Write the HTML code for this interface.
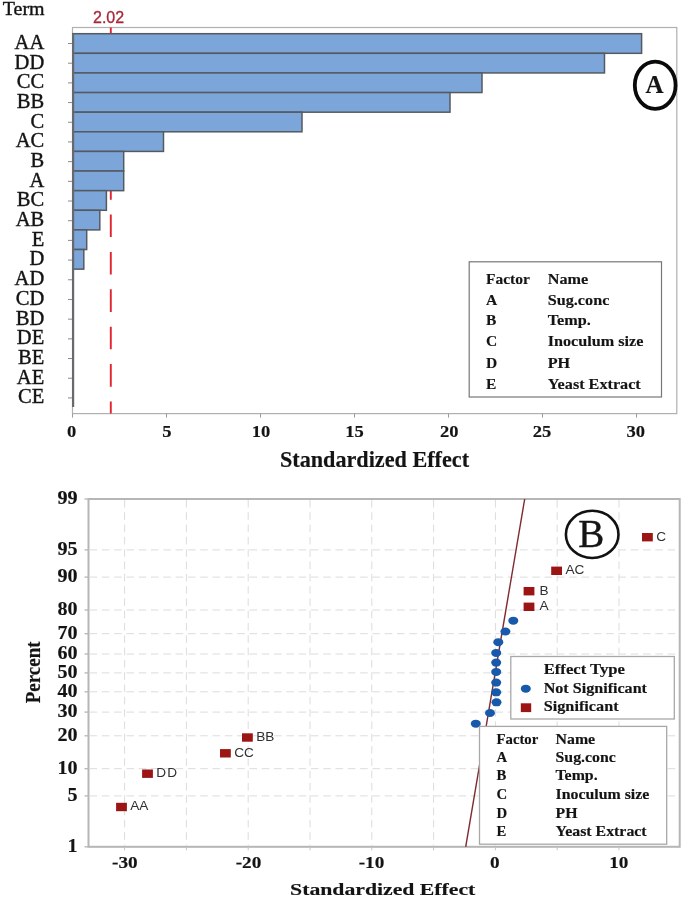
<!DOCTYPE html><html><head><meta charset="utf-8"><title>Pareto and Normal Plot</title>
<style>html,body{margin:0;padding:0;background:#fff;}svg{display:block;filter:blur(0.3px);}text{font-family:"Liberation Serif",serif;fill:#141414;}.b{font-weight:bold;stroke:#141414;stroke-width:0.15px;}.r{stroke:#141414;stroke-width:0.4px;}.s{font-family:"Liberation Sans",sans-serif;}</style></head><body>
<svg width="685" height="900" viewBox="0 0 685 900">
<rect x="0" y="0" width="685" height="900" fill="#ffffff"/>
<g id="chartA">
<rect x="72.5" y="27.5" width="604.3" height="386.1" fill="#fff" stroke="#b0b0b0" stroke-width="1.2"/>
<line x1="110.8" y1="27.5" x2="110.8" y2="413.6" stroke="#e2242e" stroke-width="1.9" stroke-dasharray="22.6 14.8"/>
<rect x="72.8" y="33.70" width="568.8" height="19.62" fill="#7ca5d9" stroke="#555a60" stroke-width="1.5"/>
<line x1="68" y1="43.50" x2="72.5" y2="43.50" stroke="#8a8a8a" stroke-width="1"/>
<text class="r" transform="translate(44.20,48.90)" font-size="20.5" text-anchor="end">AA</text>
<rect x="72.8" y="53.32" width="531.7" height="19.62" fill="#7ca5d9" stroke="#555a60" stroke-width="1.5"/>
<line x1="68" y1="63.19" x2="72.5" y2="63.19" stroke="#8a8a8a" stroke-width="1"/>
<text class="r" transform="translate(44.20,68.59)" font-size="20.5" text-anchor="end">DD</text>
<rect x="72.8" y="72.94" width="409.2" height="19.62" fill="#7ca5d9" stroke="#555a60" stroke-width="1.5"/>
<line x1="68" y1="82.88" x2="72.5" y2="82.88" stroke="#8a8a8a" stroke-width="1"/>
<text class="r" transform="translate(44.20,88.28)" font-size="20.5" text-anchor="end">CC</text>
<rect x="72.8" y="92.56" width="377.2" height="19.62" fill="#7ca5d9" stroke="#555a60" stroke-width="1.5"/>
<line x1="68" y1="102.57" x2="72.5" y2="102.57" stroke="#8a8a8a" stroke-width="1"/>
<text class="r" transform="translate(44.20,107.97)" font-size="20.5" text-anchor="end">BB</text>
<rect x="72.8" y="112.18" width="229.2" height="19.62" fill="#7ca5d9" stroke="#555a60" stroke-width="1.5"/>
<line x1="68" y1="122.26" x2="72.5" y2="122.26" stroke="#8a8a8a" stroke-width="1"/>
<text class="r" transform="translate(44.20,127.66)" font-size="20.5" text-anchor="end">C</text>
<rect x="72.8" y="131.80" width="90.7" height="19.62" fill="#7ca5d9" stroke="#555a60" stroke-width="1.5"/>
<line x1="68" y1="141.95" x2="72.5" y2="141.95" stroke="#8a8a8a" stroke-width="1"/>
<text class="r" transform="translate(44.20,147.35)" font-size="20.5" text-anchor="end">AC</text>
<rect x="72.8" y="151.42" width="50.9" height="19.62" fill="#7ca5d9" stroke="#555a60" stroke-width="1.5"/>
<line x1="68" y1="161.64" x2="72.5" y2="161.64" stroke="#8a8a8a" stroke-width="1"/>
<text class="r" transform="translate(44.20,167.04)" font-size="20.5" text-anchor="end">B</text>
<rect x="72.8" y="171.04" width="50.9" height="19.62" fill="#7ca5d9" stroke="#555a60" stroke-width="1.5"/>
<line x1="68" y1="181.33" x2="72.5" y2="181.33" stroke="#8a8a8a" stroke-width="1"/>
<text class="r" transform="translate(44.20,186.73)" font-size="20.5" text-anchor="end">A</text>
<rect x="72.8" y="190.66" width="33.6" height="19.62" fill="#7ca5d9" stroke="#555a60" stroke-width="1.5"/>
<line x1="68" y1="201.02" x2="72.5" y2="201.02" stroke="#8a8a8a" stroke-width="1"/>
<text class="r" transform="translate(44.20,206.42)" font-size="20.5" text-anchor="end">BC</text>
<rect x="72.8" y="210.28" width="27.0" height="19.62" fill="#7ca5d9" stroke="#555a60" stroke-width="1.5"/>
<line x1="68" y1="220.71" x2="72.5" y2="220.71" stroke="#8a8a8a" stroke-width="1"/>
<text class="r" transform="translate(44.20,226.11)" font-size="20.5" text-anchor="end">AB</text>
<rect x="72.8" y="229.90" width="13.9" height="19.62" fill="#7ca5d9" stroke="#555a60" stroke-width="1.5"/>
<line x1="68" y1="240.40" x2="72.5" y2="240.40" stroke="#8a8a8a" stroke-width="1"/>
<text class="r" transform="translate(44.20,245.80)" font-size="20.5" text-anchor="end">E</text>
<rect x="72.8" y="249.52" width="11.0" height="19.62" fill="#7ca5d9" stroke="#555a60" stroke-width="1.5"/>
<line x1="68" y1="260.09" x2="72.5" y2="260.09" stroke="#8a8a8a" stroke-width="1"/>
<text class="r" transform="translate(44.20,265.49)" font-size="20.5" text-anchor="end">D</text>
<line x1="68" y1="279.78" x2="72.5" y2="279.78" stroke="#8a8a8a" stroke-width="1"/>
<text class="r" transform="translate(44.20,285.18)" font-size="20.5" text-anchor="end">AD</text>
<line x1="68" y1="299.47" x2="72.5" y2="299.47" stroke="#8a8a8a" stroke-width="1"/>
<text class="r" transform="translate(44.20,304.87)" font-size="20.5" text-anchor="end">CD</text>
<line x1="68" y1="319.16" x2="72.5" y2="319.16" stroke="#8a8a8a" stroke-width="1"/>
<text class="r" transform="translate(44.20,324.56)" font-size="20.5" text-anchor="end">BD</text>
<line x1="68" y1="338.85" x2="72.5" y2="338.85" stroke="#8a8a8a" stroke-width="1"/>
<text class="r" transform="translate(44.20,344.25)" font-size="20.5" text-anchor="end">DE</text>
<line x1="68" y1="358.54" x2="72.5" y2="358.54" stroke="#8a8a8a" stroke-width="1"/>
<text class="r" transform="translate(44.20,363.94)" font-size="20.5" text-anchor="end">BE</text>
<line x1="68" y1="378.23" x2="72.5" y2="378.23" stroke="#8a8a8a" stroke-width="1"/>
<text class="r" transform="translate(44.20,383.63)" font-size="20.5" text-anchor="end">AE</text>
<line x1="68" y1="397.92" x2="72.5" y2="397.92" stroke="#8a8a8a" stroke-width="1"/>
<text class="r" transform="translate(44.20,403.32)" font-size="20.5" text-anchor="end">CE</text>
<line x1="73.1" y1="33.7" x2="73.1" y2="407.0" stroke="#666a6e" stroke-width="2.2"/>
<line x1="72.5" y1="413.6" x2="72.5" y2="417.6" stroke="#9a9a9a" stroke-width="1"/>
<text class="b" transform="translate(71.60,437.00) scale(1.06,1.0)" font-size="17.5" text-anchor="middle">0</text>
<line x1="166.5" y1="413.6" x2="166.5" y2="417.6" stroke="#9a9a9a" stroke-width="1"/>
<text class="b" transform="translate(167.00,437.00) scale(1.06,1.0)" font-size="17.5" text-anchor="middle">5</text>
<line x1="260.5" y1="413.6" x2="260.5" y2="417.6" stroke="#9a9a9a" stroke-width="1"/>
<text class="b" transform="translate(261.00,437.00) scale(1.06,1.0)" font-size="17.5" text-anchor="middle">10</text>
<line x1="354.5" y1="413.6" x2="354.5" y2="417.6" stroke="#9a9a9a" stroke-width="1"/>
<text class="b" transform="translate(354.60,437.00) scale(1.06,1.0)" font-size="17.5" text-anchor="middle">15</text>
<line x1="448.5" y1="413.6" x2="448.5" y2="417.6" stroke="#9a9a9a" stroke-width="1"/>
<text class="b" transform="translate(449.20,437.00) scale(1.06,1.0)" font-size="17.5" text-anchor="middle">20</text>
<line x1="542.5" y1="413.6" x2="542.5" y2="417.6" stroke="#9a9a9a" stroke-width="1"/>
<text class="b" transform="translate(542.00,437.00) scale(1.06,1.0)" font-size="17.5" text-anchor="middle">25</text>
<line x1="636.5" y1="413.6" x2="636.5" y2="417.6" stroke="#9a9a9a" stroke-width="1"/>
<text class="b" transform="translate(635.80,437.00) scale(1.06,1.0)" font-size="17.5" text-anchor="middle">30</text>
<text class="r" transform="translate(2.80,15.00) scale(1.05,1.0)" font-size="19" text-anchor="start">Term</text>
<text class="s" transform="translate(93.00,22.50)" font-size="16" text-anchor="start" style="fill:#a8283a;stroke:#a8283a;stroke-width:0.3px">2.02</text>
<text class="b" transform="translate(374.50,466.80)" font-size="22.2" text-anchor="middle">Standardized Effect</text>
<ellipse cx="655.2" cy="85.2" rx="20.4" ry="23.6" fill="none" stroke="#0a0a0a" stroke-width="3.8"/>
<text class="b" transform="translate(654.60,92.80)" font-size="25" text-anchor="middle">A</text>
<rect x="469.2" y="261.8" width="192.3" height="135.2" fill="#fff" stroke="#777" stroke-width="1.2"/>
<text class="b" transform="translate(486.00,283.60)" font-size="15.5" text-anchor="start">Factor</text>
<text class="b" transform="translate(547.70,283.60) scale(1.045,1.0)" font-size="15.5" text-anchor="start">Name</text>
<text class="b" transform="translate(486.00,304.70)" font-size="15.5" text-anchor="start">A</text>
<text class="b" transform="translate(547.70,304.70) scale(1.045,1.0)" font-size="15.5" text-anchor="start">Sug.conc</text>
<text class="b" transform="translate(486.00,324.60)" font-size="15.5" text-anchor="start">B</text>
<text class="b" transform="translate(547.70,324.60) scale(1.045,1.0)" font-size="15.5" text-anchor="start">Temp.</text>
<text class="b" transform="translate(486.00,346.40)" font-size="15.5" text-anchor="start">C</text>
<text class="b" transform="translate(547.70,346.40) scale(1.045,1.0)" font-size="15.5" text-anchor="start">Inoculum size</text>
<text class="b" transform="translate(486.00,368.40)" font-size="15.5" text-anchor="start">D</text>
<text class="b" transform="translate(547.70,368.40) scale(1.045,1.0)" font-size="15.5" text-anchor="start">PH</text>
<text class="b" transform="translate(486.00,388.70)" font-size="15.5" text-anchor="start">E</text>
<text class="b" transform="translate(547.70,388.70) scale(1.045,1.0)" font-size="15.5" text-anchor="start">Yeast Extract</text>
</g>
<g id="chartB">
<rect x="88.5" y="499.0" width="591.2" height="347.79999999999995" fill="#fff" stroke="#b6b6b6" stroke-width="2"/>
<line x1="124.6" y1="500.0" x2="124.6" y2="845.8" stroke="#dcdcdc" stroke-width="1" stroke-dasharray="7.6 4.7"/>
<line x1="124.6" y1="846.8" x2="124.6" y2="850.3" stroke="#c4c4c4" stroke-width="1"/>
<line x1="186.4" y1="500.0" x2="186.4" y2="845.8" stroke="#dcdcdc" stroke-width="1" stroke-dasharray="7.6 4.7"/>
<line x1="186.4" y1="846.8" x2="186.4" y2="850.3" stroke="#c4c4c4" stroke-width="1"/>
<line x1="248.2" y1="500.0" x2="248.2" y2="845.8" stroke="#dcdcdc" stroke-width="1" stroke-dasharray="7.6 4.7"/>
<line x1="248.2" y1="846.8" x2="248.2" y2="850.3" stroke="#c4c4c4" stroke-width="1"/>
<line x1="310.0" y1="500.0" x2="310.0" y2="845.8" stroke="#dcdcdc" stroke-width="1" stroke-dasharray="7.6 4.7"/>
<line x1="310.0" y1="846.8" x2="310.0" y2="850.3" stroke="#c4c4c4" stroke-width="1"/>
<line x1="371.8" y1="500.0" x2="371.8" y2="845.8" stroke="#dcdcdc" stroke-width="1" stroke-dasharray="7.6 4.7"/>
<line x1="371.8" y1="846.8" x2="371.8" y2="850.3" stroke="#c4c4c4" stroke-width="1"/>
<line x1="433.6" y1="500.0" x2="433.6" y2="845.8" stroke="#dcdcdc" stroke-width="1" stroke-dasharray="7.6 4.7"/>
<line x1="433.6" y1="846.8" x2="433.6" y2="850.3" stroke="#c4c4c4" stroke-width="1"/>
<line x1="495.4" y1="500.0" x2="495.4" y2="845.8" stroke="#dcdcdc" stroke-width="1" stroke-dasharray="7.6 4.7"/>
<line x1="495.4" y1="846.8" x2="495.4" y2="850.3" stroke="#c4c4c4" stroke-width="1"/>
<line x1="557.2" y1="500.0" x2="557.2" y2="845.8" stroke="#dcdcdc" stroke-width="1" stroke-dasharray="7.6 4.7"/>
<line x1="557.2" y1="846.8" x2="557.2" y2="850.3" stroke="#c4c4c4" stroke-width="1"/>
<line x1="619.0" y1="500.0" x2="619.0" y2="845.8" stroke="#dcdcdc" stroke-width="1" stroke-dasharray="7.6 4.7"/>
<line x1="619.0" y1="846.8" x2="619.0" y2="850.3" stroke="#c4c4c4" stroke-width="1"/>
<line x1="89.5" y1="549.9" x2="678.7" y2="549.9" stroke="#dcdcdc" stroke-width="1" stroke-dasharray="7.6 4.7"/>
<line x1="89.5" y1="577.1" x2="678.7" y2="577.1" stroke="#dcdcdc" stroke-width="1" stroke-dasharray="7.6 4.7"/>
<line x1="89.5" y1="610.0" x2="678.7" y2="610.0" stroke="#dcdcdc" stroke-width="1" stroke-dasharray="7.6 4.7"/>
<line x1="89.5" y1="633.7" x2="678.7" y2="633.7" stroke="#dcdcdc" stroke-width="1" stroke-dasharray="7.6 4.7"/>
<line x1="89.5" y1="654.0" x2="678.7" y2="654.0" stroke="#dcdcdc" stroke-width="1" stroke-dasharray="7.6 4.7"/>
<line x1="89.5" y1="672.9" x2="678.7" y2="672.9" stroke="#dcdcdc" stroke-width="1" stroke-dasharray="7.6 4.7"/>
<line x1="89.5" y1="691.8" x2="678.7" y2="691.8" stroke="#dcdcdc" stroke-width="1" stroke-dasharray="7.6 4.7"/>
<line x1="89.5" y1="712.1" x2="678.7" y2="712.1" stroke="#dcdcdc" stroke-width="1" stroke-dasharray="7.6 4.7"/>
<line x1="89.5" y1="735.8" x2="678.7" y2="735.8" stroke="#dcdcdc" stroke-width="1" stroke-dasharray="7.6 4.7"/>
<line x1="89.5" y1="768.7" x2="678.7" y2="768.7" stroke="#dcdcdc" stroke-width="1" stroke-dasharray="7.6 4.7"/>
<line x1="89.5" y1="795.9" x2="678.7" y2="795.9" stroke="#dcdcdc" stroke-width="1" stroke-dasharray="7.6 4.7"/>
<line x1="84.5" y1="499.0" x2="88.5" y2="499.0" stroke="#b6b6b6" stroke-width="1.3"/>
<text class="b" transform="translate(77.60,504.28) scale(1.08,1.0)" font-size="18.6" text-anchor="end">99</text>
<line x1="84.5" y1="549.9" x2="88.5" y2="549.9" stroke="#b6b6b6" stroke-width="1.3"/>
<text class="b" transform="translate(77.60,555.23) scale(1.08,1.0)" font-size="18.6" text-anchor="end">95</text>
<line x1="84.5" y1="577.1" x2="88.5" y2="577.1" stroke="#b6b6b6" stroke-width="1.3"/>
<text class="b" transform="translate(77.60,582.39) scale(1.08,1.0)" font-size="18.6" text-anchor="end">90</text>
<line x1="84.5" y1="610.0" x2="88.5" y2="610.0" stroke="#b6b6b6" stroke-width="1.3"/>
<text class="b" transform="translate(77.60,615.28) scale(1.08,1.0)" font-size="18.6" text-anchor="end">80</text>
<line x1="84.5" y1="633.7" x2="88.5" y2="633.7" stroke="#b6b6b6" stroke-width="1.3"/>
<text class="b" transform="translate(77.60,639.00) scale(1.08,1.0)" font-size="18.6" text-anchor="end">70</text>
<line x1="84.5" y1="654.0" x2="88.5" y2="654.0" stroke="#b6b6b6" stroke-width="1.3"/>
<text class="b" transform="translate(77.60,659.26) scale(1.08,1.0)" font-size="18.6" text-anchor="end">60</text>
<line x1="84.5" y1="672.9" x2="88.5" y2="672.9" stroke="#b6b6b6" stroke-width="1.3"/>
<text class="b" transform="translate(77.60,678.20) scale(1.08,1.0)" font-size="18.6" text-anchor="end">50</text>
<line x1="84.5" y1="691.8" x2="88.5" y2="691.8" stroke="#b6b6b6" stroke-width="1.3"/>
<text class="b" transform="translate(77.60,697.14) scale(1.08,1.0)" font-size="18.6" text-anchor="end">40</text>
<line x1="84.5" y1="712.1" x2="88.5" y2="712.1" stroke="#b6b6b6" stroke-width="1.3"/>
<text class="b" transform="translate(77.60,717.40) scale(1.08,1.0)" font-size="18.6" text-anchor="end">30</text>
<line x1="84.5" y1="735.8" x2="88.5" y2="735.8" stroke="#b6b6b6" stroke-width="1.3"/>
<text class="b" transform="translate(77.60,741.12) scale(1.08,1.0)" font-size="18.6" text-anchor="end">20</text>
<line x1="84.5" y1="768.7" x2="88.5" y2="768.7" stroke="#b6b6b6" stroke-width="1.3"/>
<text class="b" transform="translate(77.60,774.01) scale(1.08,1.0)" font-size="18.6" text-anchor="end">10</text>
<line x1="84.5" y1="795.9" x2="88.5" y2="795.9" stroke="#b6b6b6" stroke-width="1.3"/>
<text class="b" transform="translate(77.60,801.17) scale(1.08,1.0)" font-size="18.6" text-anchor="end">5</text>
<line x1="84.5" y1="846.8" x2="88.5" y2="846.8" stroke="#b6b6b6" stroke-width="1.3"/>
<text class="b" transform="translate(77.60,852.12) scale(1.08,1.0)" font-size="18.6" text-anchor="end">1</text>
<text class="b" transform="translate(124.80,867.80) scale(1.18,1.0)" font-size="16.3" text-anchor="middle">-30</text>
<text class="b" transform="translate(248.50,867.80) scale(1.18,1.0)" font-size="16.3" text-anchor="middle">-20</text>
<text class="b" transform="translate(371.50,867.80) scale(1.18,1.0)" font-size="16.3" text-anchor="middle">-10</text>
<text class="b" transform="translate(494.80,867.80) scale(1.18,1.0)" font-size="16.3" text-anchor="middle">0</text>
<text class="b" transform="translate(618.80,867.80) scale(1.18,1.0)" font-size="16.3" text-anchor="middle">10</text>
<line x1="465.7" y1="846.8" x2="524.7" y2="499.0" stroke="#7e2a2e" stroke-width="1.4"/>
<rect x="116.1" y="802.8" width="10.8" height="8.4" fill="#9b1515"/>
<text class="s" transform="translate(130.30,810.40)" font-size="13.6" text-anchor="start" style="fill:#303030">AA</text>
<rect x="142.1" y="769.5" width="10.8" height="8.4" fill="#9b1515"/>
<text class="s" transform="translate(156.30,777.10)" font-size="13.6" text-anchor="start" style="fill:#303030" letter-spacing="1.2">DD</text>
<rect x="220.0" y="749.1" width="10.8" height="8.4" fill="#9b1515"/>
<text class="s" transform="translate(234.20,756.70)" font-size="13.6" text-anchor="start" style="fill:#303030">CC</text>
<rect x="242.0" y="733.3" width="10.8" height="8.4" fill="#9b1515"/>
<text class="s" transform="translate(256.20,740.90)" font-size="13.6" text-anchor="start" style="fill:#303030">BB</text>
<rect x="523.6" y="602.6" width="10.8" height="8.4" fill="#9b1515"/>
<text class="s" transform="translate(539.40,610.20)" font-size="13.6" text-anchor="start" style="fill:#303030">A</text>
<rect x="523.6" y="587.0" width="10.8" height="8.4" fill="#9b1515"/>
<text class="s" transform="translate(539.40,594.60)" font-size="13.6" text-anchor="start" style="fill:#303030">B</text>
<rect x="551.2" y="566.6" width="10.8" height="8.4" fill="#9b1515"/>
<text class="s" transform="translate(565.40,574.20)" font-size="13.6" text-anchor="start" style="fill:#303030">AC</text>
<rect x="642.0" y="533.0" width="10.8" height="8.4" fill="#9b1515"/>
<text class="s" transform="translate(656.20,540.60)" font-size="13.6" text-anchor="start" style="fill:#303030">C</text>
<ellipse cx="513.3" cy="620.7" rx="5.0" ry="4.0" fill="#1759aa"/>
<ellipse cx="505.4" cy="631.5" rx="5.0" ry="4.0" fill="#1759aa"/>
<ellipse cx="498.3" cy="642.2" rx="5.0" ry="4.0" fill="#1759aa"/>
<ellipse cx="496.2" cy="652.9" rx="5.0" ry="4.0" fill="#1759aa"/>
<ellipse cx="496.2" cy="662.6" rx="5.0" ry="4.0" fill="#1759aa"/>
<ellipse cx="496.2" cy="671.9" rx="5.0" ry="4.0" fill="#1759aa"/>
<ellipse cx="496.2" cy="682.6" rx="5.0" ry="4.0" fill="#1759aa"/>
<ellipse cx="496.2" cy="692.3" rx="5.0" ry="4.0" fill="#1759aa"/>
<ellipse cx="496.5" cy="702.3" rx="5.0" ry="4.0" fill="#1759aa"/>
<ellipse cx="490" cy="713" rx="5.0" ry="4.0" fill="#1759aa"/>
<ellipse cx="475.8" cy="723.7" rx="5.0" ry="4.0" fill="#1759aa"/>
<ellipse cx="592.2" cy="534.4" rx="26.3" ry="23.6" fill="#fff" stroke="#111" stroke-width="2.6"/>
<text class="r" transform="translate(591.30,546.80)" font-size="39" text-anchor="middle">B</text>
<rect x="510.8" y="656.5" width="163.5" height="62.5" fill="#fff" stroke="#a8a8a8" stroke-width="1.3"/>
<text class="b" transform="translate(543.70,674.40) scale(1.19,1.0)" font-size="14" text-anchor="start">Effect Type</text>
<text class="b" transform="translate(543.70,693.00) scale(1.15,1.0)" font-size="14" text-anchor="start">Not Significant</text>
<text class="b" transform="translate(543.70,710.90) scale(1.16,1.0)" font-size="14" text-anchor="start">Significant</text>
<ellipse cx="525.8" cy="688.7" rx="5.0" ry="4.0" fill="#1759aa"/>
<rect x="520.8" y="703.3" width="10.4" height="8.8" fill="#9b1515"/>
<rect x="479.5" y="726.4" width="187.2" height="117.8" fill="#fff" stroke="#a8a8a8" stroke-width="1.3"/>
<text class="b" transform="translate(496.50,744.40) scale(1.07,1.0)" font-size="13.8" text-anchor="start">Factor</text>
<text class="b" transform="translate(555.50,744.40) scale(1.15,1.0)" font-size="13.8" text-anchor="start">Name</text>
<text class="b" transform="translate(496.50,762.20) scale(1.07,1.0)" font-size="13.8" text-anchor="start">A</text>
<text class="b" transform="translate(555.50,762.20) scale(1.15,1.0)" font-size="13.8" text-anchor="start">Sug.conc</text>
<text class="b" transform="translate(496.50,780.00) scale(1.07,1.0)" font-size="13.8" text-anchor="start">B</text>
<text class="b" transform="translate(555.50,780.00) scale(1.15,1.0)" font-size="13.8" text-anchor="start">Temp.</text>
<text class="b" transform="translate(496.50,799.20) scale(1.07,1.0)" font-size="13.8" text-anchor="start">C</text>
<text class="b" transform="translate(555.50,799.20) scale(1.15,1.0)" font-size="13.8" text-anchor="start">Inoculum size</text>
<text class="b" transform="translate(496.50,817.60) scale(1.07,1.0)" font-size="13.8" text-anchor="start">D</text>
<text class="b" transform="translate(555.50,817.60) scale(1.15,1.0)" font-size="13.8" text-anchor="start">PH</text>
<text class="b" transform="translate(496.50,835.50) scale(1.07,1.0)" font-size="13.8" text-anchor="start">E</text>
<text class="b" transform="translate(555.50,835.50) scale(1.15,1.0)" font-size="13.8" text-anchor="start">Yeast Extract</text>
<text class="b" transform="translate(382.70,894.50) scale(1.236,1.0)" font-size="17.6" text-anchor="middle">Standardized Effect</text>
<text class="b" transform="translate(39.70,672.40) rotate(-90) scale(1.0,1.11)" font-size="19" text-anchor="middle">Percent</text>
</g>
</svg></body></html>
